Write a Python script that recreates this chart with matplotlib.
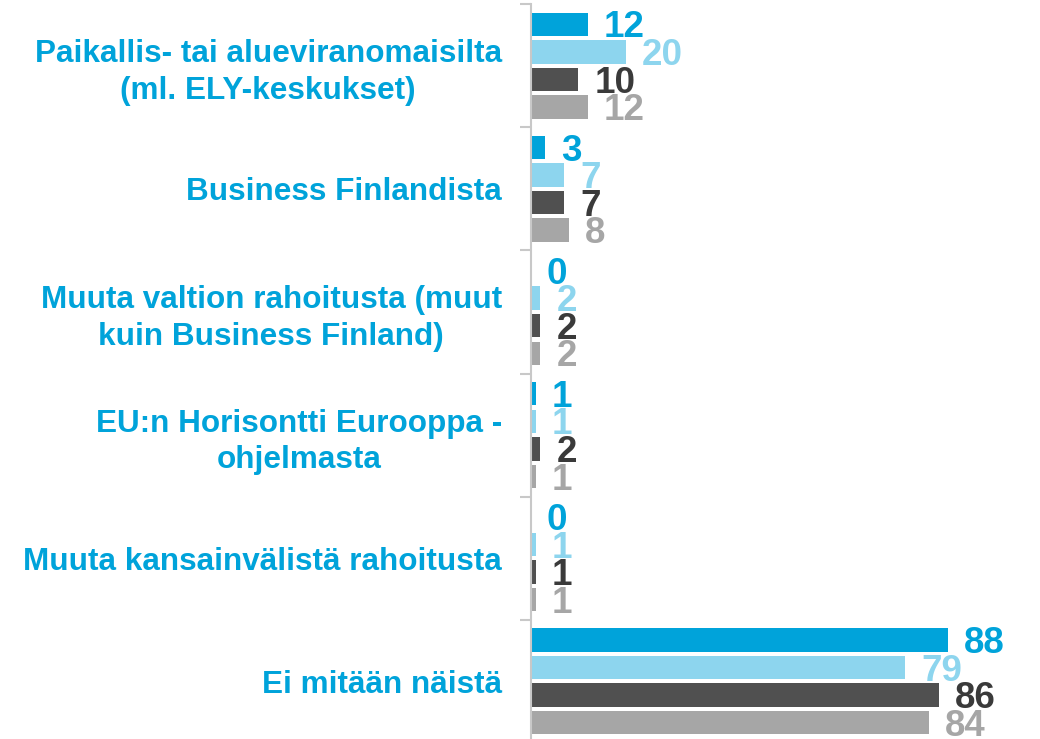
import matplotlib.pyplot as plt
import numpy as np

plt.rcParams["font.family"] = ["Liberation Sans", "DejaVu Sans"]

CATEGORIES = [
    "Paikallis- tai alueviranomaisilta\n(ml. ELY-keskukset)",
    "Business Finlandista",
    "Muuta valtion rahoitusta (muut\nkuin Business Finland)",
    "EU:n Horisontti Eurooppa -\nohjelmasta",
    "Muuta kansainvälistä rahoitusta",
    "Ei mitään näistä",
]
SERIES_1 = [12, 3, 0, 1, 0, 88]
SERIES_2 = [20, 7, 2, 1, 1, 79]
SERIES_3 = [10, 7, 2, 2, 1, 86]
SERIES_4 = [12, 8, 2, 1, 1, 84]

BAR_COLORS = ["#00A3DA", "#8DD5EE", "#505050", "#A6A6A6"]
TEXT_COLORS = ["#00A3DA", "#8DD5EE", "#3A3A3A", "#A6A6A6"]
LABEL_BLUE = "#00A3DA"
AXIS_GRAY = "#C8C8C8"

SLOT = 0.2236
BAR_H = 0.19
VALUE_FS = 26.5
CAT_FS = 22.7


def main() -> None:
    fig = plt.figure(figsize=(10.4, 7.39), dpi=100)
    ax = fig.add_axes([531 / 1040, -4 / 739, 509 / 1040, 739 / 739])

    series = [SERIES_1, SERIES_2, SERIES_3, SERIES_4]
    n_cat = len(CATEGORIES)
    y = np.arange(n_cat)
    # baseline shift so the digits sit centred on the bar
    half_digit = 0.716 * VALUE_FS * 100 / 72 / 2
    for k, vals in enumerate(series):
        offset = (k - 1.5) * SLOT
        ax.barh(y + offset, vals, height=BAR_H, color=BAR_COLORS[k], edgecolor="none")
        for yi, v in zip(y, vals):
            ax.annotate(
                f"{v}", xy=(v, yi + offset), xytext=(16, -half_digit),
                textcoords="offset pixels", ha="left", va="baseline",
                fontsize=VALUE_FS, fontweight="bold", color=TEXT_COLORS[k],
            )

    ax.set_xlim(0, 107.4)
    ax.set_ylim(n_cat - 0.5, -0.5)

    # boundary ticks (major) and category labels (minor)
    ax.set_yticks(np.arange(n_cat + 1) - 0.5)
    ax.set_yticklabels([])
    ax.set_yticks(y, minor=True)
    ax.set_yticklabels(CATEGORIES, minor=True)
    ax.tick_params(axis="y", which="major", length=8, width=1.5, color=AXIS_GRAY, direction="out")
    ax.tick_params(axis="y", which="minor", length=0, pad=21)
    for lab in ax.get_yticklabels(minor=True):
        lab.set_fontsize(CAT_FS)
        lab.set_fontweight("bold")
        lab.set_color(LABEL_BLUE)
        lab.set_multialignment("center")
        lab.set_linespacing(1.28)

    ax.set_xticks([])
    for side in ("top", "right", "bottom"):
        ax.spines[side].set_visible(False)
    ax.spines["left"].set_color(AXIS_GRAY)
    ax.spines["left"].set_linewidth(1.5)
    ax.patch.set_alpha(0)

    fig.savefig("out.png", dpi=100)
    plt.close(fig)


if __name__ == "__main__":
    main()
